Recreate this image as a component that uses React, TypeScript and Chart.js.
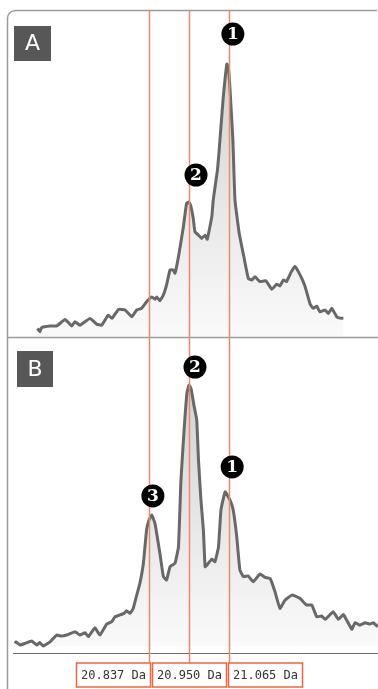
import React, { useEffect, useRef } from "react";
import { Chart, registerables } from "chart.js";

Chart.register(...registerables);

// Panel A spectrum (mass in Da, relative intensity %)
const massA = [20.519,20.526,20.531,20.555,20.574,20.598,20.617,20.626,20.640,20.669,20.688,20.702,20.721,20.731,20.750,20.769,20.788,20.802,20.816,20.830,20.845,20.854,20.859,20.868,20.878,20.887,20.897,20.906,20.911,20.921,20.935,20.944,20.950,20.955,20.963,20.968,20.978,20.987,20.997,21.003,21.016,21.020,21.032,21.037,21.048,21.059,21.064,21.068,21.076,21.082,21.094,21.108,21.120,21.130,21.139,21.153,21.170,21.187,21.201,21.210,21.220,21.229,21.242,21.253,21.263,21.273,21.282,21.296,21.305,21.315,21.324,21.339,21.348,21.358,21.372,21.381,21.391];
const intensityA = [2.8,1.6,3.1,3.7,3.7,6.1,3.7,5.3,4.0,6.5,4.4,4.0,7.7,6.5,9.8,9.6,7.1,9.6,10.2,12.6,14.4,13.5,14.4,13.0,15.1,18.8,24.3,24.3,23.1,29.2,40.2,48.8,49.3,48.3,43.3,38.3,37.1,35.9,37.1,35.6,43.9,50.0,61.0,68.4,86.8,100,97.8,90.4,72.1,50.0,37.8,28.7,21.2,20.6,21.8,20.0,20.3,17.2,19.1,18.4,20.6,20.0,23.5,25.7,23.6,21.0,18.1,11.8,10.2,11.0,8.9,9.6,8.3,10.2,7.1,6.6,6.5];

// Panel B spectrum
const massB = [20.455,20.458,20.469,20.484,20.503,20.517,20.526,20.536,20.555,20.574,20.588,20.602,20.626,20.640,20.655,20.664,20.683,20.697,20.716,20.731,20.740,20.754,20.766,20.773,20.783,20.792,20.802,20.811,20.821,20.830,20.837,20.845,20.854,20.861,20.868,20.878,20.887,20.897,20.911,20.921,20.928,20.937,20.945,20.951,20.957,20.965,20.973,20.978,20.985,20.992,20.997,21.006,21.016,21.025,21.035,21.042,21.054,21.068,21.077,21.087,21.096,21.106,21.120,21.134,21.153,21.168,21.182,21.196,21.210,21.225,21.244,21.267,21.286,21.301,21.315,21.329,21.339,21.362,21.377,21.391,21.415,21.424,21.438,21.453,21.467,21.476,21.489];
const intensityB = [1.0,1.6,0.4,1.0,1.9,0.4,1.3,0,1.6,4.2,3.8,4.2,5.5,4.2,5.1,3.6,7.0,4.2,8.3,9.3,11.2,11.9,12.5,13.5,12.5,14.4,19.5,24.0,31.7,44.4,48.3,50.2,47.0,41.4,35.5,26.6,25.3,30.4,31.7,38.0,63.6,82.8,96.9,100,98.5,92.3,86.6,71.3,55.9,44.4,30.4,31.7,33.3,32.3,38.0,52.1,59.1,55.9,52.1,41.9,29.1,26.6,26.8,24.6,27.6,26.3,25.9,20.8,14.4,17.6,19.5,18.3,15.7,15.7,11.2,11.5,10.2,13.1,10.2,12.1,6.4,8.9,8.0,8.9,8.4,8.9,7.4];

// Marker lines and their labels
const markerMasses = [20.837, 20.950, 21.065];
const markerLabels = ["20.837 Da", "20.950 Da", "21.065 Da"];

// Panel names
const panelLabels = ["A", "B"];

// Peak tags (number, mass position, intensity position)
const tagTextA = ["1", "2"];
const tagMassA = [21.076, 20.971];
const tagValueA = [111.0, 59.2];
const tagTextB = ["2", "1", "3"];
const tagMassB = [20.968, 21.074, 20.848];
const tagValueB = [106.9, 68.6, 57.5];

// Axis ranges
const xMin = 20.4494;
const xMax = 21.4896;
const yAMin = -116.5;
const yAMax = 119.85;
const yBMin = -2.68;
const yBMax = 243.7;

const LINE_COLOR = "#f2876c";
const BOX_COLOR = "#f0643f";

const decorPlugin = {
  id: "decor",
  beforeDatasetsDraw(chart: any) {
    const { ctx, chartArea } = chart;
    const yA = chart.scales.yA;
    const left = chartArea.left;
    const right = chart.width;
    const top = chartArea.top;
    const sepY = Math.round(yA.getPixelForValue(0)) + 1.5;
    const axisY = chartArea.bottom + 0.5;
    ctx.save();
    ctx.strokeStyle = "#9a9a9a";
    ctx.lineWidth = 1.5;
    const fx = left - 5.5;
    ctx.beginPath();
    ctx.moveTo(fx, chart.height);
    ctx.lineTo(fx, top + 8.5);
    ctx.arcTo(fx, top + 0.5, fx + 8, top + 0.5, 8);
    ctx.lineTo(right - 1, top + 0.5);
    ctx.stroke();
    ctx.beginPath();
    ctx.moveTo(fx, sepY);
    ctx.lineTo(right, sepY);
    ctx.stroke();
    ctx.strokeStyle = "#6e6e6e";
    ctx.lineWidth = 1;
    ctx.beginPath();
    ctx.moveTo(left, axisY);
    ctx.lineTo(right, axisY);
    ctx.stroke();
    const boxes = [
      { x: left + 1, y: top + 16, w: 37, h: 35 },
      { x: left + 4, y: sepY + 13.5, w: 36, h: 36 },
    ];
    panelLabels.forEach((lab, i) => {
      const b = boxes[i];
      ctx.fillStyle = "#575757";
      ctx.fillRect(b.x, b.y, b.w, b.h);
      ctx.fillStyle = "#ffffff";
      ctx.font = "22px 'DejaVu Sans'";
      ctx.textAlign = "center";
      ctx.textBaseline = "middle";
      ctx.fillText(lab, b.x + b.w / 2, b.y + b.h / 2 + 1);
    });
    ctx.restore();
  },
  afterDatasetsDraw(chart: any) {
    const { ctx, chartArea } = chart;
    const xs = chart.scales.x;
    const yA = chart.scales.yA;
    const yB = chart.scales.yB;
    const boxTop = chartArea.bottom + 10;
    const boxH = 24;
    ctx.save();
    ctx.strokeStyle = LINE_COLOR;
    ctx.lineWidth = 1.5;
    const px = markerMasses.map((m) => Math.round(xs.getPixelForValue(m)) + 0.5);
    px.forEach((x) => {
      ctx.beginPath();
      ctx.moveTo(x, chartArea.top);
      ctx.lineTo(x, boxTop);
      ctx.stroke();
    });
    ctx.font = "12px 'DejaVu Sans Mono'";
    ctx.textBaseline = "middle";
    ctx.textAlign = "left";
    markerLabels.forEach((lab, i) => {
      const tw = ctx.measureText(lab).width;
      const w = tw + 9;
      let bx: number;
      if (i === 0) bx = px[i] - w + 1;
      else if (i === markerLabels.length - 1) bx = px[i] - 1;
      else bx = px[i] - w / 2;
      ctx.fillStyle = "#ffffff";
      ctx.fillRect(bx, boxTop, w, boxH);
      ctx.strokeStyle = BOX_COLOR;
      ctx.lineWidth = 1.5;
      ctx.strokeRect(bx, boxTop, w, boxH);
      ctx.fillStyle = "#333333";
      ctx.fillText(lab, bx + 4.5, boxTop + boxH / 2 + 1);
    });
    const drawTag = (t: string, x: number, y: number) => {
      ctx.fillStyle = "#000000";
      ctx.beginPath();
      ctx.arc(x, y, 11.5, 0, Math.PI * 2);
      ctx.fill();
      ctx.fillStyle = "#ffffff";
      ctx.font = "bold 17px 'DejaVu Serif'";
      ctx.textAlign = "center";
      ctx.textBaseline = "middle";
      ctx.fillText(t, x, y + 1);
    };
    tagTextA.forEach((t, i) =>
      drawTag(t, xs.getPixelForValue(tagMassA[i]), yA.getPixelForValue(tagValueA[i]))
    );
    tagTextB.forEach((t, i) =>
      drawTag(t, xs.getPixelForValue(tagMassB[i]), yB.getPixelForValue(tagValueB[i]))
    );
    ctx.restore();
  },
};

function gradientFill(c: any) {
  const chart = c.chart;
  if (!chart.chartArea) return "#eeeeee";
  const ys = chart.scales[c.dataset.yAxisID];
  const topPx = ys.getPixelForValue(100);
  const botPx = ys.getPixelForValue(0);
  const g = chart.ctx.createLinearGradient(0, topPx, 0, botPx);
  g.addColorStop(0, "#d2d2d2");
  g.addColorStop(1, "#fafafa");
  return g;
}

export default function App() {
  const ref = useRef<HTMLCanvasElement | null>(null);
  useEffect(() => {
    if (!ref.current) return;
    const chart = new Chart(ref.current, {
      type: "line",
      data: {
        datasets: [
          {
            label: "A",
            data: massA.map((m, i) => ({ x: m, y: intensityA[i] })),
            yAxisID: "yA",
            borderColor: "#686868",
            borderWidth: 3,
            pointRadius: 0,
            tension: 0.1,
            fill: "origin",
            backgroundColor: gradientFill,
          },
          {
            label: "B",
            data: massB.map((m, i) => ({ x: m, y: intensityB[i] })),
            yAxisID: "yB",
            borderColor: "#686868",
            borderWidth: 3,
            pointRadius: 0,
            tension: 0.1,
            fill: "origin",
            backgroundColor: gradientFill,
          },
        ],
      },
      options: {
        responsive: false,
        animation: false,
        devicePixelRatio: 1,
        layout: { padding: { left: 13, right: 0, top: 10, bottom: 36 } },
        plugins: { legend: { display: false }, tooltip: { enabled: false } },
        scales: {
          x: { type: "linear", min: xMin, max: xMax, display: false },
          yA: { type: "linear", min: yAMin, max: yAMax, display: false },
          yB: { type: "linear", min: yBMin, max: yBMax, display: false },
        },
      },
      plugins: [decorPlugin],
    });
    return () => chart.destroy();
  }, []);
  return (
    <div style={{ position: "absolute", left: 0, top: 0, width: 378, height: 689, background: "#fff" }}>
      <canvas ref={ref} width={378} height={689} style={{ display: "block", width: 378, height: 689 }} />
    </div>
  );
}
